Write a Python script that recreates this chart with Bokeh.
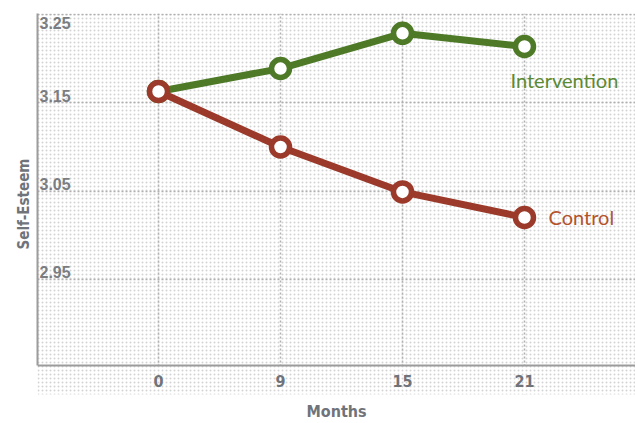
from bokeh.plotting import figure
from bokeh.models import Range1d, FixedTicker, BoxAnnotation, ColumnDataSource, LinearAxis
from bokeh.core.properties import value
from bokeh.embed import file_html
from bokeh.resources import INLINE

# ---- data ----
months = ["0", "9", "15", "21"]
intervention = [3.163, 3.189, 3.229, 3.214]
control = [3.163, 3.100, 3.049, 3.020]
y_ticks = [2.95, 3.05, 3.15, 3.25]
y_tick_labels = ["2.95", "3.05", "3.15", "3.25"]
series_names = ["Intervention", "Control"]
x_title = "Months"
y_title = "Self-Esteem"

# ---- style ----
GREEN = "#4e7a28"
RED = "#9b3a2a"
GREEN_TXT = "#5b8a35"
RED_TXT = "#b4532c"
AXIS_COL = "#9c9c9c"
TXT_COL = "#6f737a"
NARROW = "'Liberation Sans Narrow', 'DejaVu Sans Condensed', 'Liberation Sans', sans-serif"

x_idx = list(range(len(months)))
x_start, x_end = -0.992, 3.910
y_start, y_end = 2.8191, 3.2515
axis_y = 2.852

p = figure(width=635, height=423, output_backend="svg", toolbar_location=None,
           x_range=Range1d(x_start, x_end), y_range=Range1d(y_start, y_end),
           min_border_left=37, min_border_right=0, min_border_top=13, min_border_bottom=23,
           outline_line_color=None, background_fill_color="white", border_fill_color="white")

# dotted background
bg = BoxAnnotation(level="image", fill_color="white", fill_alpha=1.0, line_color=None,
                   hatch_pattern="dot", hatch_scale=4, hatch_weight=1, hatch_color="#d3d3d3")
p.add_layout(bg)

# x axis (drawn at the bottom of the chart area, dotted band below it)
xax = p.xaxis[0]
xax.ticker = FixedTicker(ticks=x_idx)
xax.major_label_overrides = {i: m for i, m in zip(x_idx, months)}
xax.fixed_location = axis_y
xax.axis_line_color = AXIS_COL
xax.axis_line_width = 2
xax.major_tick_line_color = None
xax.minor_tick_line_color = None
xax.major_label_standoff = 3
xax.major_label_text_font = NARROW
xax.major_label_text_font_style = "bold"
xax.major_label_text_font_size = "16px"
xax.major_label_text_color = TXT_COL

# x title on its own axis in the bottom border
tax = LinearAxis(ticker=FixedTicker(ticks=[]), axis_line_color=None,
                 major_tick_line_color=None, minor_tick_line_color=None,
                 axis_label=x_title, axis_label_standoff=7,
                 axis_label_text_font=NARROW, axis_label_text_font_style="bold",
                 axis_label_text_font_size="16px", axis_label_text_color=TXT_COL)
p.add_layout(tax, "below")

yax = p.yaxis[0]
yax.ticker = FixedTicker(ticks=[])
yax.bounds = (axis_y, y_end)
yax.axis_line_color = AXIS_COL
yax.axis_line_width = 2
yax.major_tick_line_color = None
yax.minor_tick_line_color = None
yax.axis_label = y_title
yax.axis_label_text_font = NARROW
yax.axis_label_text_font_style = "bold"
yax.axis_label_text_font_size = "15px"
yax.axis_label_text_color = TXT_COL
yax.axis_label_standoff = 5

p.xgrid.ticker = FixedTicker(ticks=x_idx)
p.ygrid.ticker = FixedTicker(ticks=y_ticks)
for g in (p.xgrid, p.ygrid):
    g.grid_line_color = "#b0b0b0"
    g.grid_line_width = 1.5
    g.grid_line_dash = "2 2"

# cover grid lines below the x axis, keep dots
below = BoxAnnotation(level="underlay", top=axis_y, fill_color="white", fill_alpha=1.0, line_color=None,
                      hatch_pattern="dot", hatch_scale=4, hatch_weight=1, hatch_color="#d3d3d3")
p.add_layout(below)

# y tick labels inside plot
top_tick = max(y_ticks)
src_lo = ColumnDataSource(dict(x=[x_start] * (len(y_ticks) - 1),
                               y=[v for v in y_ticks if v != top_tick],
                               t=[l for v, l in zip(y_ticks, y_tick_labels) if v != top_tick]))
src_hi = ColumnDataSource(dict(x=[x_start], y=[top_tick],
                               t=[l for v, l in zip(y_ticks, y_tick_labels) if v == top_tick]))
for src, base, yo in ((src_lo, "bottom", -1), (src_hi, "top", 2)):
    p.text(x="x", y="y", text="t", source=src, x_offset=2, y_offset=yo,
           text_baseline=base, text_align="left",
           text_font=value("Liberation Sans"), text_font_style="bold",
           text_font_size="16px", text_color="#7a7d82")

# series
for ys, col in ((intervention, GREEN), (control, RED)):
    p.line(x_idx, ys, line_width=7, line_color=col, line_join="round", line_cap="round")
    p.scatter(x_idx, ys, size=18, fill_color="white", line_color=col, line_width=5.5)

# end labels
LBL_FONT = value("Lato")
p.text(x=[x_idx[-1]], y=[intervention[-1]], text=[series_names[0]], x_offset=-14, y_offset=33,
       text_baseline="middle", text_align="left", text_font=LBL_FONT,
       text_font_size="20px", text_color=GREEN_TXT)
p.text(x=[x_idx[-1]], y=[control[-1]], text=[series_names[1]], x_offset=24, y_offset=0,
       text_baseline="middle", text_align="left", text_font=LBL_FONT,
       text_font_size="20px", text_color=RED_TXT)

open("out.html", "w").write(file_html(p, INLINE))
